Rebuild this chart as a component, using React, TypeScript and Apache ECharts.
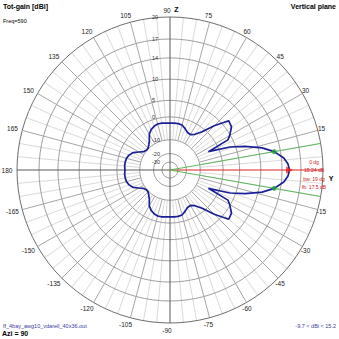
import { useEffect, useRef } from 'react';
import * as echarts from 'echarts';

// ---- data ----
const ringDb = [20, 17, 14, 10, 5, 0, -10, -20, -30];
const angleLabels = [15, 30, 45, 60, 75, 90, 105, 120, 135, 150, 165, 180, -165, -150, -135, -120, -105, -90, -75, -60, -45, -30, -15];
// elevation angle (deg, 0 = +Y, 90 = +Z) for the upper half; pattern is symmetric
const patternAngles = [0, 3, 6, 10, 13.5, 17.5, 21, 25.5, 27.5, 30, 35, 40, 45, 50, 55, 60, 65, 70, 75, 80, 85, 90, 95, 100, 105, 110, 115, 120, 125, 130, 135, 140, 145, 150, 155, 160, 165, 170, 175, 180];
const patternGain = [15.24, 15.0, 14.4, 12.9, 10.8, 7.3, 3.5, -4.0, 3.8, 4.8, 6.4, 6.8, 3.0, -1.1, -3.6, -4.7, -4.5, -3.4, -2.4, -2.2, -2.2, -2.3, -2.2, -2.0, -2.0, -2.4, -3.2, -4.5, -7.0, -8.5, -9.6, -9.7, -9.0, -7.0, -4.7, -3.6, -3.0, -2.8, -2.8, -3.0];
const maxAngle = 0;
const maxGain = 15.24;
const halfPowerAngles = [10, -10];
const annotation = ['0 dg', '15.24 dB', 'bw: 19 dg', 'fb: 17.5 dB'];

const FONT = '"Liberation Sans", Arial, sans-serif';
// log-like radial display scale (pixels from the centre)
const toR = (db: number) => 158 * Math.exp((db - 20) / 20) - 5;
const norm = (a: number) => (a < 0 ? a + 360 : a);

export default function App() {
  const ref = useRef<HTMLDivElement>(null);
  useEffect(() => {
    if (!ref.current) return;
    const chart = echarts.init(ref.current, undefined, { renderer: 'svg' });

    const curve: number[][] = [];
    patternAngles.forEach((a, i) => curve.push([toR(patternGain[i]), a]));
    for (let i = patternAngles.length - 2; i >= 0; i--) curve.push([toR(patternGain[i]), 360 - patternAngles[i]]);

    const radialAngles: number[] = [];
    for (let a = 0; a < 360; a += 5) if (a % 90 !== 0) radialAngles.push(a);

    const hpGain = patternGain[patternAngles.indexOf(10)];
    const outer = toR(ringDb[0]);

    const textStyle = (text: string, size: number, fill: string, align: string, weight = 'normal') => ({
      text, fill, fontSize: size, fontFamily: FONT, fontWeight: weight,
      align, textAlign: align, verticalAlign: 'middle', textVerticalAlign: 'middle',
    });

    chart.setOption({
      animation: false,
      backgroundColor: '#ffffff',
      polar: { center: [170, 170], radius: 165 },
      angleAxis: {
        type: 'value', min: 0, max: 360, startAngle: 0, clockwise: false,
        axisLine: { show: false }, axisTick: { show: false }, axisLabel: { show: false }, splitLine: { show: false },
      },
      radiusAxis: {
        type: 'value', min: 0, max: 165,
        axisLine: { show: false }, axisTick: { show: false }, axisLabel: { show: false }, splitLine: { show: false },
      },
      graphic: [
        { type: 'text', x: 3, y: 6, style: textStyle('Tot-gain [dBi]', 7, '#000', 'left', 'bold') },
        { type: 'text', x: 3, y: 21, style: textStyle('Freq=590', 5.5, '#000', 'left') },
        { type: 'text', x: 336, y: 6, style: textStyle('Vertical plane', 7, '#000', 'right', 'bold') },
        { type: 'text', x: 3, y: 325.5, style: textStyle('ff_4bay_awg10_vdarell_40x36.out', 5.5, '#3a3aa0', 'left') },
        { type: 'text', x: 2, y: 333, style: textStyle('Azi = 90', 7, '#000', 'left', 'bold') },
        { type: 'text', x: 336, y: 325.5, style: textStyle('-9.7 < dBi < 15.2', 5.5, '#3a3aa0', 'right') },
        { type: 'text', x: 176.5, y: 9, style: textStyle('Z', 7, '#000', 'center', 'bold') },
        { type: 'text', x: 331, y: 178, style: textStyle('Y', 7, '#000', 'center', 'bold') },
      ],
      series: [
        {
          type: 'custom', coordinateSystem: 'polar', silent: true, z: 1,
          data: radialAngles.map((a) => [outer, a]),
          renderItem: (params: any, api: any) => {
            const a = api.value(1);
            const p1 = api.coord([toR(-10), a]);
            const p2 = api.coord([api.value(0), a]);
            return {
              type: 'line', shape: { x1: p1[0], y1: p1[1], x2: p2[0], y2: p2[1] },
              style: { stroke: a % 15 === 0 ? '#a6a6a6' : '#dadada', lineWidth: 1 },
            };
          },
        },
        {
          type: 'custom', coordinateSystem: 'polar', silent: true, z: 2,
          data: ringDb.map((d) => [toR(d), 90]),
          renderItem: (params: any, api: any) => {
            const c = api.coord([0, 90]);
            const p = api.coord([api.value(0), 90]);
            return {
              type: 'circle', shape: { cx: c[0], cy: c[1], r: Math.abs(c[1] - p[1]) },
              style: { fill: 'none', stroke: params.dataIndex === 0 ? '#6e6e6e' : '#a0a0a0', lineWidth: 1 },
            };
          },
        },
        {
          type: 'custom', coordinateSystem: 'polar', silent: true, z: 3,
          data: [[outer, 90], [outer, 180], [outer, 270]],
          renderItem: (params: any, api: any) => {
            const c = api.coord([0, api.value(1)]);
            const p = api.coord([api.value(0), api.value(1)]);
            return {
              type: 'line', shape: { x1: c[0], y1: c[1], x2: p[0], y2: p[1] },
              style: { stroke: '#5a5a5a', lineWidth: 1 },
            };
          },
        },
        {
          type: 'line', coordinateSystem: 'polar', silent: true, z: 4, symbol: 'none',
          data: [[0, maxAngle], [outer, maxAngle]],
          lineStyle: { color: '#e02020', width: 1 },
        },
        ...halfPowerAngles.map((a) => ({
          type: 'line', coordinateSystem: 'polar', silent: true, z: 4, symbol: 'none',
          data: [[0, norm(a)], [outer, norm(a)]],
          lineStyle: { color: '#5cb85c', width: 1 },
        })),
        {
          type: 'line', coordinateSystem: 'polar', silent: true, z: 5, symbol: 'none',
          data: curve,
          lineStyle: { color: '#1a1f96', width: 1.7 },
        },
        {
          type: 'scatter', coordinateSystem: 'polar', silent: true, z: 6,
          data: halfPowerAngles.map((a) => [toR(hpGain), norm(a)]),
          symbol: 'circle', symbolSize: 5, itemStyle: { color: '#22a040' },
        },
        {
          type: 'scatter', coordinateSystem: 'polar', silent: true, z: 6,
          data: [[toR(maxGain), maxAngle]],
          symbol: 'triangle', symbolRotate: -90, symbolSize: 7, itemStyle: { color: '#e02020' },
        },
        {
          type: 'custom', coordinateSystem: 'polar', silent: true, z: 7,
          data: ringDb.map((d) => [toR(d), 90]),
          renderItem: (params: any, api: any) => {
            const p = api.coord([api.value(0), 90]);
            return {
              type: 'text', x: p[0] - 18, y: p[1],
              style: textStyle(String(ringDb[params.dataIndex]), 5.5, '#333', 'left'),
            };
          },
        },
        {
          type: 'custom', coordinateSystem: 'polar', silent: true, z: 7,
          data: angleLabels.map((a) => [160, norm(a)]),
          renderItem: (params: any, api: any) => {
            const p = api.coord([api.value(0), api.value(1)]);
            return {
              type: 'text', x: p[0] - 3, y: p[1],
              style: textStyle(String(angleLabels[params.dataIndex]), 6.5, '#222', 'center'),
            };
          },
        },
        {
          type: 'custom', coordinateSystem: 'polar', silent: true, z: 7,
          data: annotation.map(() => [outer, maxAngle]),
          renderItem: (params: any, api: any) => {
            const p = api.coord([api.value(0), api.value(1)]);
            return {
              type: 'text', x: p[0] - 9, y: p[1] - 8.5 + params.dataIndex * 8.5,
              style: textStyle(annotation[params.dataIndex], 5, '#d02020', 'center'),
            };
          },
        },
      ],
    });
    return () => chart.dispose();
  }, []);
  return <div ref={ref} style={{ position: 'absolute', left: 0, top: 0, width: 339, height: 339 }} />;
}
